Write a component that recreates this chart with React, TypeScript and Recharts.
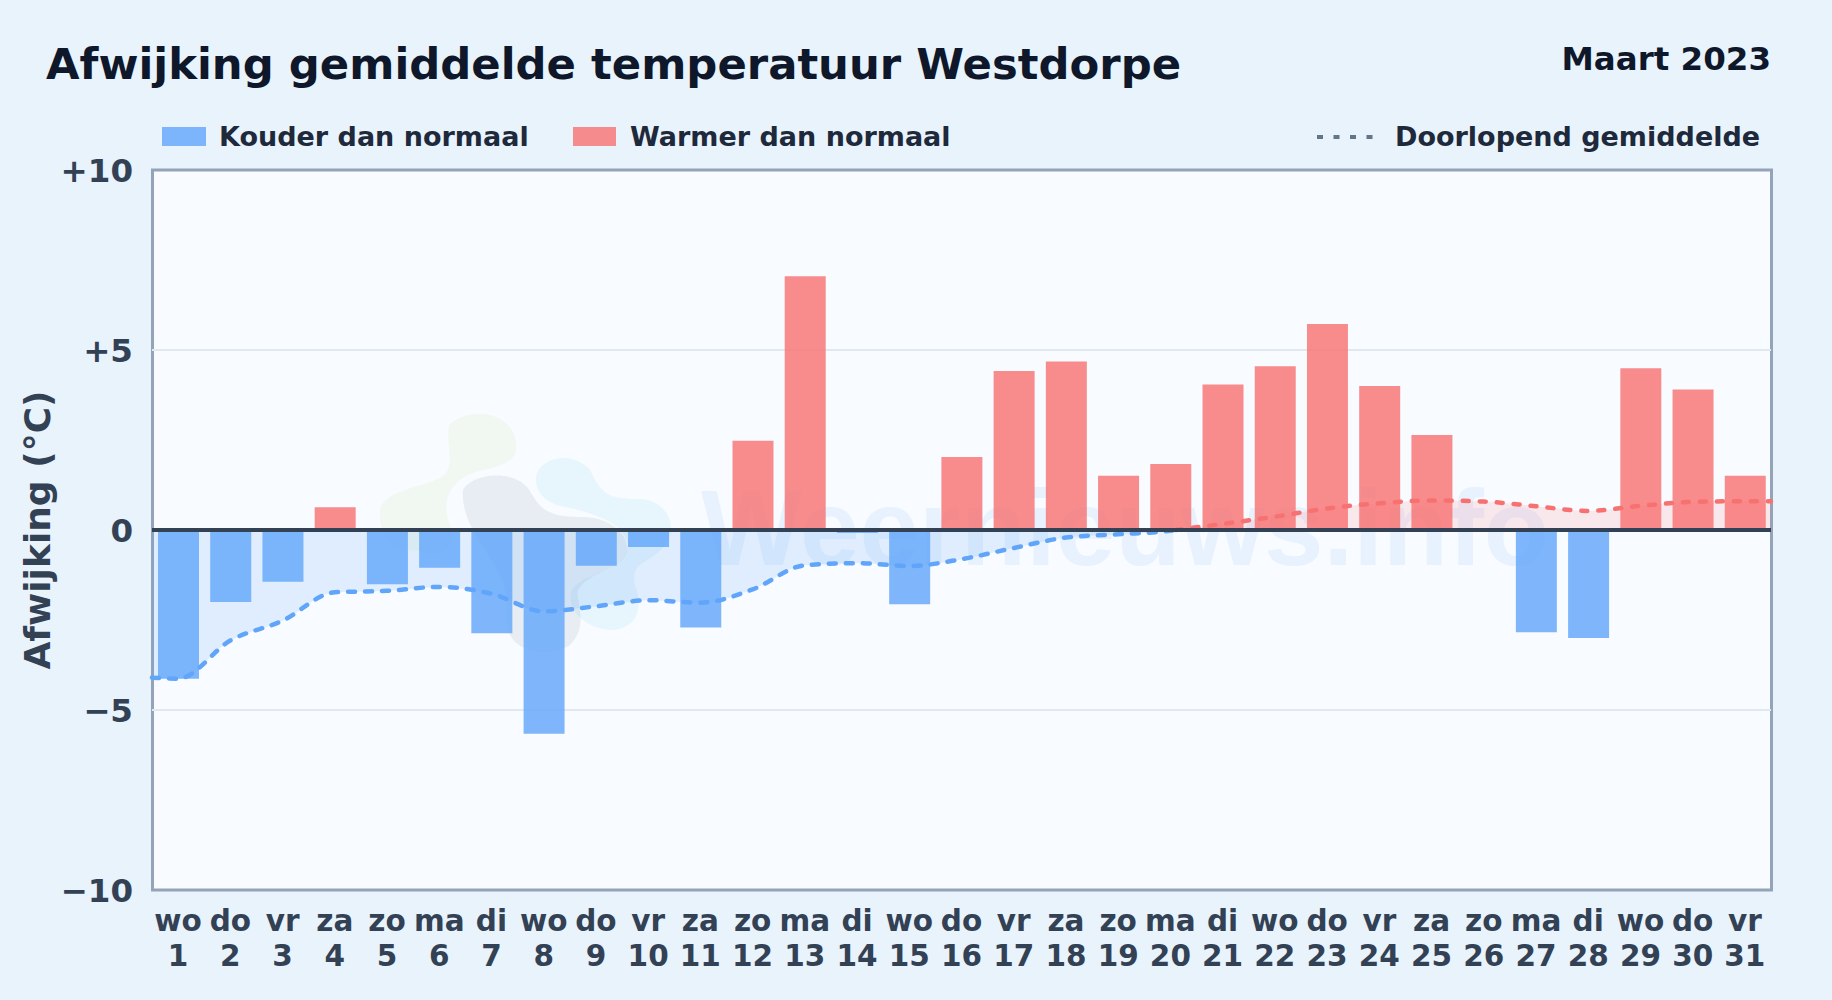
import React from 'react';
import { Area, Bar, CartesianGrid, ComposedChart, Line, ReferenceLine, XAxis, YAxis } from 'recharts';

const DAYS = [1, 2, 3, 4, 5, 6, 7, 8, 9, 10, 11, 12, 13, 14, 15, 16, 17, 18, 19, 20, 21, 22, 23, 24, 25, 26, 27, 28, 29, 30, 31];
const WEEKDAYS = ['wo', 'do', 'vr', 'za', 'zo', 'ma', 'di', 'wo', 'do', 'vr', 'za', 'zo', 'ma', 'di', 'wo', 'do', 'vr', 'za', 'zo', 'ma', 'di', 'wo', 'do', 'vr', 'za', 'zo', 'ma', 'di', 'wo', 'do', 'vr'];
const DEVIATION = [-4.13, -2.0, -1.44, 0.63, -1.51, -1.05, -2.87, -5.66, -0.99, -0.47, -2.71, 2.48, 7.05, -0.08, -2.06, 2.03, 4.42, 4.68, 1.51, 1.83, 4.04, 4.55, 5.72, 4.0, 2.64, 0, -2.84, -3.0, 4.49, 3.9, 1.51];
const RUNNING_MEAN = [-4.13, -3.07, -2.52, -1.73, -1.69, -1.58, -1.77, -2.26, -2.12, -1.95, -2.02, -1.65, -0.98, -0.92, -1.0, -0.81, -0.5, -0.21, -0.12, -0.02, 0.17, 0.37, 0.6, 0.74, 0.82, 0.79, 0.66, 0.53, 0.67, 0.78, 0.8];
const Y_TICKS = [-10, -5, 0, 5, 10];
const GRID_VALUES = [-5, 5];

const BLUE = '#60a5fa';
const RED = '#f87171';
const FONT = '"DejaVu Sans", sans-serif';

const rows = DAYS.map((day, i) => ({
  day,
  cold: DEVIATION[i] < 0 ? DEVIATION[i] : null,
  warm: DEVIATION[i] > 0 ? DEVIATION[i] : null,
}));

const meanRows: any[] = DAYS.map((day, i) => ({
  day,
  meanCold: RUNNING_MEAN[i] <= 0 ? RUNNING_MEAN[i] : null,
  meanWarm: RUNNING_MEAN[i] >= 0 ? RUNNING_MEAN[i] : null,
}));
// the mean line runs out to the frame and changes colour where it crosses zero
meanRows.unshift({ day: 0.5, meanCold: -4.1 });
meanRows.splice(21, 0, { day: 20.1, meanCold: 0, meanWarm: 0 });
meanRows.push({ day: 31.5, meanWarm: 0.8 });

const formatY = (v: number) => (v > 0 ? `+${v}` : v < 0 ? `\u2212${-v}` : '0');

const DayTick = ({ x, y, payload }: any) => (
  <text x={x} textAnchor="middle" fontFamily={FONT} fontWeight={700} fontSize={29.5} fill="#334155">
    <tspan x={x} y={y + 33}>{WEEKDAYS[payload.value - 1]}</tspan>
    <tspan x={x} y={y + 67.5}>{payload.value}</tspan>
  </text>
);

const Backdrop = () => (
  <svg width={1832} height={1000} style={{ position: 'absolute', left: 0, top: 0 }}>
    <rect width={1832} height={1000} fill="#e8f3fc" />
    <rect x={152.5} y={170} width={1619} height={720} fill="#f8fbff" stroke="#94a3b8" strokeWidth={3} />
    {/* watermark */}
    <path d="M449 425C470 405 512 412 516 442C520 468 490 466 470 474C452 482 440 500 450 525C458 548 440 560 415 550C395 555 378 535 380 510C384 490 420 488 440 478C458 468 445 445 449 425Z" fill="#84cc16" opacity={0.06} />
    <path d="M463 490C470 475 510 468 527 487C540 505 540 517 583 517C610 517 630 535 627 552C620 572 590 570 578 590C575 600 590 625 570 645C555 655 530 655 515 642C500 625 510 610 505 590C500 560 460 530 463 490Z" fill="#64748b" opacity={0.1} />
    <path d="M537 473C545 455 575 452 590 470C600 490 605 500 640 499C665 500 680 525 665 545C650 565 630 560 635 585C645 610 635 630 610 630C585 628 565 610 572 590C585 570 625 575 628 545C625 525 600 515 570 508C545 505 532 490 537 473Z" fill="#0ea5e9" opacity={0.07} />
    <text x={701} y={565} fontFamily="Liberation Sans" fontWeight={700} fontSize={107} fill="#3b82f6" opacity={0.08}>Weernieuws.info</text>
    {/* header */}
    <text x={46} y={79} fontFamily={FONT} fontWeight={700} fontSize={43.35} fill="#0f172a">Afwijking gemiddelde temperatuur Westdorpe</text>
    <text x={1771} y={70} textAnchor="end" fontFamily={FONT} fontWeight={700} fontSize={32.5} fill="#0f172a">Maart 2023</text>
    {/* legend */}
    <rect x={162} y={127} width={44} height={19} fill={BLUE} opacity={0.8} />
    <text x={219} y={146} fontFamily={FONT} fontWeight={700} fontSize={27} fill="#1e293b">Kouder dan normaal</text>
    <rect x={573} y={127} width={43} height={19} fill={RED} opacity={0.8} />
    <text x={630} y={146} fontFamily={FONT} fontWeight={700} fontSize={27} fill="#1e293b">Warmer dan normaal</text>
    <line x1={1317} x2={1376} y1={137} y2={137} stroke="#64748b" strokeWidth={4} strokeDasharray="6 10.5" />
    <text x={1395} y={146} fontFamily={FONT} fontWeight={700} fontSize={27} fill="#1e293b">Doorlopend gemiddelde</text>
  </svg>
);

const App: React.FC = () => (
  <div style={{ position: 'absolute', left: 0, top: 0, width: 1832, height: 1000, overflow: 'hidden', fontFamily: FONT }}>
    <Backdrop />
    <div style={{ position: 'absolute', left: 0, top: 0 }}>
      <ComposedChart width={1832} height={1000} data={rows} margin={{ top: 170, right: 61, bottom: 0, left: 0 }}>
        <CartesianGrid vertical={false} horizontalValues={GRID_VALUES} stroke="#e2e8f0" strokeWidth={2} />
        <XAxis
          dataKey="day"
          height={110}
          interval={0}
          axisLine={false}
          tickLine={false}
          tick={<DayTick />}
        />
        <XAxis xAxisId="mean" dataKey="day" type="number" domain={[0.5, 31.5]} hide />
        <YAxis
          domain={[-10, 10]}
          ticks={Y_TICKS}
          width={152}
          axisLine={false}
          tickLine={false}
          tickMargin={13}
          tickFormatter={formatY}
          tick={{ fontFamily: FONT, fontWeight: 700, fontSize: 32.5, fill: '#334155' }}
          label={{ value: 'Afwijking (°C)', angle: -90, position: 'insideLeft', offset: 37, style: { fontFamily: FONT, fontWeight: 700, fontSize: 36, fill: '#334155', textAnchor: 'middle' } }}
        />
        <Area xAxisId="mean" data={meanRows} dataKey="meanCold" type="monotone" baseValue={0} stroke="none" fill={BLUE} fillOpacity={0.16} isAnimationActive={false} dot={false} activeDot={false} />
        <Area xAxisId="mean" data={meanRows} dataKey="meanWarm" type="monotone" baseValue={0} stroke="none" fill={RED} fillOpacity={0.14} isAnimationActive={false} dot={false} activeDot={false} />
        <Bar dataKey="cold" stackId="dev" barSize={41} fill={BLUE} fillOpacity={0.8} isAnimationActive={false} />
        <Bar dataKey="warm" stackId="dev" barSize={41} fill={RED} fillOpacity={0.8} isAnimationActive={false} />
        <Line xAxisId="mean" data={meanRows} dataKey="meanCold" type="monotone" stroke={BLUE} strokeWidth={4.5} strokeDasharray="7 10" strokeLinecap="round" dot={false} activeDot={false} isAnimationActive={false} />
        <Line xAxisId="mean" data={meanRows} dataKey="meanWarm" type="monotone" stroke={RED} strokeWidth={4.5} strokeDasharray="6 11" strokeLinecap="round" dot={false} activeDot={false} isAnimationActive={false} />
        <ReferenceLine y={0} stroke="#334155" strokeWidth={4} />
      </ComposedChart>
    </div>
  </div>
);

export default App;
